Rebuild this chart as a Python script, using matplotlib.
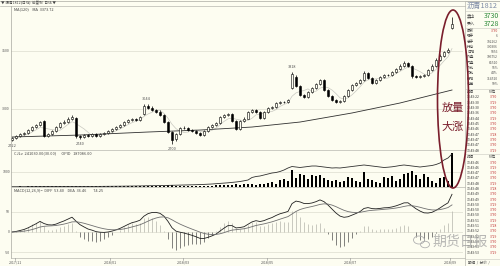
import numpy as np
import pandas as pd
import matplotlib
matplotlib.use("Agg")
import matplotlib.pyplot as plt
from matplotlib.patches import Ellipse, Rectangle

plt.rcParams['font.family'] = ['Noto Sans CJK SC', 'DejaVu Sans']

# ---- daily bars ----
opens = [
    2735, 2752, 2770, 2786, 2795, 2822, 2846, 2864, 2897, 2770,
    2786, 2812, 2846, 2880, 2890, 2916, 2925, 2770, 2760, 2778,
    2770, 2786, 2770, 2786, 2795, 2812, 2830, 2846, 2864, 2890,
    2906, 2916, 2906, 2960, 3030, 3012, 2994, 2978, 2946, 2886,
    2800, 2738, 2788, 2840, 2834, 2820, 2812, 2795, 2778, 2812,
    2848, 2864, 2880, 2934, 2950, 2958, 2896, 2830, 2898, 2918,
    2976, 2994, 2976, 2924, 2976, 3010, 3020, 3054, 3062, 3062,
    3180, 3280, 3196, 3120, 3105, 3150, 3184, 3218, 3250, 3162,
    3110, 3080, 3062, 3070, 3115, 3166, 3209, 3226, 3252, 3312,
    3268, 3226, 3252, 3278, 3295, 3292, 3320, 3347, 3373, 3398,
    3372, 3286, 3278, 3286, 3294, 3338, 3375, 3425, 3460, 3492,
    3700]
highs = [
    2762, 2775, 2792, 2803, 2828, 2856, 2872, 2900, 2908, 2795,
    2822, 2858, 2890, 2902, 2928, 2945, 2934, 2780, 2788, 2786,
    2795, 2794, 2796, 2802, 2820, 2838, 2855, 2872, 2898, 2916,
    2926, 2924, 2942, 3042, 3044, 3022, 3004, 2988, 2956, 2894,
    2808, 2796, 2848, 2852, 2842, 2830, 2820, 2804, 2820, 2856,
    2874, 2890, 2942, 2960, 2970, 2966, 2904, 2908, 2928, 2986,
    3004, 3002, 2984, 2986, 3020, 3030, 3064, 3072, 3070, 3090,
    3318, 3292, 3204, 3130, 3158, 3192, 3228, 3262, 3258, 3170,
    3118, 3088, 3080, 3124, 3176, 3218, 3236, 3262, 3324, 3320,
    3276, 3262, 3288, 3304, 3302, 3330, 3356, 3384, 3410, 3406,
    3380, 3296, 3296, 3304, 3348, 3386, 3436, 3472, 3504, 3522,
    3790]
lows = [
    2722, 2744, 2762, 2778, 2788, 2814, 2838, 2856, 2755, 2762,
    2778, 2804, 2838, 2872, 2882, 2908, 2752, 2740, 2750, 2758,
    2762, 2756, 2762, 2778, 2788, 2804, 2822, 2838, 2856, 2882,
    2898, 2896, 2898, 2950, 3000, 2982, 2966, 2938, 2878, 2790,
    2700, 2728, 2780, 2826, 2810, 2800, 2784, 2766, 2770, 2804,
    2840, 2856, 2872, 2926, 2942, 2886, 2816, 2822, 2890, 2910,
    2968, 2964, 2910, 2916, 2968, 3002, 3012, 3046, 3050, 3054,
    3170, 3188, 3110, 3094, 3096, 3142, 3176, 3210, 3154, 3102,
    3068, 3050, 3054, 3062, 3106, 3158, 3200, 3218, 3244, 3258,
    3214, 3218, 3244, 3270, 3284, 3284, 3312, 3338, 3364, 3362,
    3270, 3266, 3270, 3278, 3286, 3330, 3366, 3416, 3452, 3484,
    3690]
closes = [
    2750, 2767, 2784, 2793, 2819, 2845, 2862, 2888, 2767, 2784,
    2810, 2845, 2879, 2888, 2914, 2931, 2767, 2758, 2776, 2767,
    2784, 2767, 2784, 2793, 2810, 2828, 2845, 2862, 2888, 2905,
    2914, 2905, 2931, 3026, 3009, 2991, 2974, 2948, 2888, 2802,
    2733, 2784, 2836, 2836, 2819, 2810, 2793, 2776, 2810, 2845,
    2862, 2879, 2931, 2948, 2957, 2897, 2828, 2897, 2914, 2974,
    2991, 2974, 2922, 2974, 3009, 3017, 3052, 3060, 3060, 3078,
    3300, 3198, 3121, 3103, 3147, 3181, 3216, 3250, 3164, 3112,
    3078, 3060, 3069, 3112, 3164, 3207, 3224, 3250, 3310, 3267,
    3224, 3250, 3276, 3293, 3293, 3319, 3345, 3371, 3397, 3371,
    3284, 3276, 3284, 3293, 3336, 3371, 3422, 3457, 3490, 3509,
    3730]
volumes = [
    30, 30, 40, 30, 40, 50, 40, 50, 60, 40,
    40, 50, 50, 40, 60, 50, 70, 50, 40, 50,
    40, 50, 40, 50, 60, 50, 60, 50, 60, 70,
    60, 50, 70, 90, 80, 70, 60, 70, 90, 110,
    120, 90, 80, 70, 80, 70, 60, 70, 80, 90,
    100, 110, 150, 130, 140, 160, 180, 150, 170, 220,
    200, 130, 200, 200, 270, 330, 200, 470, 530, 400,
    1130, 600, 870, 800, 530, 800, 730, 800, 600, 470,
    400, 470, 330, 400, 670, 600, 400, 330, 1000, 530,
    470, 330, 270, 670, 600, 730, 400, 530, 870, 930,
    1070, 800, 530, 870, 670, 400, 270, 600, 670, 400,
    2270]
open_interest = [
    300, 300, 320, 330, 340, 350, 360, 380, 400, 400,
    420, 430, 440, 450, 460, 480, 500, 500, 520, 540,
    560, 580, 600, 640, 680, 720, 760, 800, 850, 900,
    950, 1000, 1050, 1150, 1250, 1300, 1350, 1400, 1500, 1600,
    1700, 1800, 1900, 2000, 2100, 2200, 2300, 2450, 2600, 2800,
    3000, 3300, 3600, 3900, 4200, 4600, 5000, 5500, 6200, 7000,
    9500, 10500, 11000, 12000, 13000, 14000, 14500, 15500, 17000, 19000,
    20500, 20000, 19500, 20000, 20500, 21000, 21000, 20500, 20000, 19500,
    19000, 19200, 19000, 19500, 20000, 20500, 21000, 21500, 22000, 21500,
    21000, 20500, 20000, 19500, 19800, 20200, 20800, 21500, 22000, 21500,
    21000, 20500, 20000, 20500, 21000, 21500, 22500, 24000, 27000, 29000,
    33000]

# long moving average, read at a few bars
ma_long_idx = [0, 17, 34, 47, 60, 72, 85, 97, 105, 110]
ma_long_val = [2759, 2776, 2802, 2819, 2845, 2888, 2966, 3052, 3121, 3164]

# extreme labels on the price panel
ext_idx = [0, 17, 33.5, 40, 70]
ext_txt = ["2722", "2740", "3044", "2700", "3318"]
ext_val = [2722, 2740, 3044, 2700, 3318]
ext_above = [False, False, True, False, True]

date_idx = [0.75, 24.5, 42.75, 63.75, 84.5, 109.5]
date_txt = ["2017/11", "2018/01", "2018/03", "2018/05", "2018/07", "2018/09"]

# quote panel on the right
quote_labels = ["最新", "现手", "总手", "持仓", "日增", "外盘", "内盘", "外比", "内比", "持增", "仓差"]
quote_values = ["3730", "6", "192262", "300306", "5856", "106752", "85510", "56%", "44%", "114520", "50%"]
tick_times_1 = ["13:49:22", "13:49:30", "13:49:30", "13:49:36", "13:49:44", "13:49:45",
                "13:49:46", "13:49:47", "13:49:47", "13:49:47", "13:49:48"]
tick_times_2 = ["13:49:46", "13:49:46", "13:49:47", "13:49:47", "13:49:48", "13:49:48",
                "13:49:49", "13:49:49", "13:49:50", "13:49:50", "13:49:50", "13:49:51",
                "13:49:51", "13:49:52", "13:49:52", "13:49:53", "13:49:53", "13:49:53"]
tick_price_1 = ["3730", "3729", "3730", "3730", "3729", "3730", "3730", "3728", "3730", "3730", "3729"]
tick_price_2 = ["3730", "3729", "3730", "3730", "3729", "3728", "3730", "3730", "3729", "3730",
                "3730", "3729", "3728", "3730", "3729", "3730", "3730", "3729"]

BG = "#fdfdf1"
GRID = "#dcdccf"
DARKRED = "#7a1e2c"
W, H = 500, 266

o = np.array(opens); h = np.array(highs); l = np.array(lows); c = np.array(closes)
idx = np.arange(len(c))

cs = pd.Series(c, dtype=float)
ma5 = cs.rolling(5, min_periods=1).mean()
dif = cs.ewm(span=12, adjust=False).mean() - cs.ewm(span=26, adjust=False).mean()
dea = dif.ewm(span=9, adjust=False).mean()
hist = 2 * (dif - dea)

fig = plt.figure(figsize=(5.0, 2.66), dpi=100, facecolor=BG)


def panel(top, bottom):
    ax = fig.add_axes([11 / W, 1 - bottom / H, 452 / W, (bottom - top) / H])
    ax.set_facecolor(BG)
    ax.set_xlim(-0.25, 112.75)
    for s in ax.spines.values():
        s.set_visible(False)
    ax.set_xticks([]); ax.set_yticks([])
    return ax


# ---- price panel ----
ax_p = panel(6, 150)
ax_p.set_ylim(2647, 3888)
for g in (3000, 3500):
    ax_p.axhline(g, color=GRID, lw=0.5, zorder=0)
ax_p.plot(idx, ma5, color="#c8c8c0", lw=0.5, zorder=1)
ax_p.plot(ma_long_idx, ma_long_val, color="#303030", lw=0.6, zorder=2)
up = c >= o
ax_p.vlines(idx, l, h, color="black", lw=0.5, zorder=3)
ax_p.bar(idx[~up], (o - c)[~up], bottom=c[~up], width=0.6, color="black",
         edgecolor="black", lw=0.4, zorder=4)
ax_p.bar(idx[up], (c - o)[up], bottom=o[up], width=0.6, color=BG,
         edgecolor="black", lw=0.4, zorder=4)
for xi, t, v, above in zip(ext_idx, ext_txt, ext_val, ext_above):
    ax_p.text(xi, v + (25 if above else -25), t, fontsize=2.8, color="#555555",
              ha="center", va="bottom" if above else "top")
ax_p.text(0.5, 3860, "MA(120)    MA  3373.72", fontsize=2.8, color="#444444", va="center")

# ---- volume panel ----
ax_v = panel(150, 187)
ax_v.set_ylim(0, 2467)
ax_v.axhline(1000, color=GRID, lw=0.5, zorder=0)
ax_v.bar(idx, volumes, width=0.4, color="black", zorder=3)
ax_oi = ax_v.twinx()
ax_oi.set_xlim(-0.25, 112.75)
ax_oi.set_ylim(0, 37000)
ax_oi.plot(idx, open_interest, color="#303030", lw=0.6)
ax_oi.axis("off")
ax_v.text(0.5, 2280, "CJLv  241030.00(30.00)      OPID   187086.00", fontsize=2.8,
          color="#444444", va="center")

# ---- MACD panel ----
ax_m = panel(187, 258)
ax_m.set_ylim(-65, 112.5)
for g in (50, 0, -50):
    ax_m.axhline(g, color=GRID, lw=0.5, zorder=0)
pos = hist >= 0
ax_m.vlines(idx[pos], 0, hist[pos], color="#b4b4ac", lw=0.5, zorder=2)
ax_m.vlines(idx[~pos], 0, hist[~pos], color="#505050", lw=0.5, zorder=2)
ax_m.plot(idx, dif, color="#202020", lw=0.6, zorder=3)
ax_m.plot(idx, dea, color="#707070", lw=0.6, zorder=3)
ax_m.text(0.5, 104, "MACD(12,26,9)=  DIFF  53.40    DEA  36.46        74.25", fontsize=2.8,
          color="#444444", va="center",
          bbox=dict(boxstyle="square,pad=0.3", fc=BG, ec="none"))

# ---- overlay: frame, labels, quote panel, annotation ----
ov = fig.add_axes([0, 0, 1, 1])
ov.set_xlim(0, W); ov.set_ylim(H, 0)
ov.axis("off")
ov.patch.set_alpha(0)

ov.plot([0, W], [1, 1], color="#b8b8b0", lw=0.6)
ov.plot([0, 465], [6, 6], color="#b8b8b0", lw=0.5)
ov.text(1, 3.5, "▼ 沥青1812(日线)  前复权  日线 ▼", fontsize=2.6, color="#444444", va="center")
ov.plot([11, 11], [6, 258], color="#a8a8a0", lw=0.5)
for yy in (150, 187, 258):
    ov.plot([11, 465], [yy, yy], color="#b8b8b0", lw=0.5)
for yy, t in [(51, "3500"), (109, "3000"), (172, "1000"), (212, "50"), (232, "0"), (253, "-50")]:
    ov.text(10, yy, t, fontsize=2.6, color="#555555", ha="right", va="center")
for di, t in zip(date_idx, date_txt):
    px = 12 + 4 * di
    ov.plot([px, px], [258, 260], color="#888888", lw=0.4)
    ov.text(px, 263, t, fontsize=2.6, color="#555555", ha="center", va="center")

# right quote panel
ov.add_patch(Rectangle((465, 1), 35, 265, fc=BG, ec="#b8b8b0", lw=0.5, zorder=1))
ov.text(467, 6, "沥青1812", fontsize=5.2, color="#7d8aa5", va="center", zorder=2)
ov.plot([465, 500], [10.5, 10.5], color="#c8c8c0", lw=0.4, zorder=2)
ov.text(467, 15.5, "卖出", fontsize=3.0, color="#444444", va="center", zorder=2)
ov.text(499, 15.5, "3730", fontsize=5.0, color="#2e8b3a", va="center", ha="right", zorder=2)
ov.text(467, 24, "买入", fontsize=3.0, color="#444444", va="center", zorder=2)
ov.text(499, 24, "3728", fontsize=5.0, color="#2e8b3a", va="center", ha="right", zorder=2)
ov.plot([465, 500], [28, 28], color="#c8c8c0", lw=0.4, zorder=2)
for k, (lab, val) in enumerate(zip(quote_labels, quote_values)):
    yy = 31 + k * 5.3
    ov.text(467, yy, lab, fontsize=2.6, color="#444444", va="center", zorder=2)
    ov.text(498, yy, val, fontsize=2.4, color="#c03030" if k == 0 else "#555555",
            va="center", ha="right", zorder=2)
for hy in (92, 157):
    ov.plot([465, 500], [hy - 3.5, hy - 3.5], color="#c8c8c0", lw=0.4, zorder=2)
    ov.text(467, hy, "时间", fontsize=2.6, color="#444444", va="center", zorder=2)
    ov.text(489, hy, "价位", fontsize=2.6, color="#444444", va="center", zorder=2)
for k, (tt, pp) in enumerate(zip(tick_times_1, tick_price_1)):
    yy = 97.5 + k * 5.3
    ov.text(467, yy, tt, fontsize=2.4, color="#333333", va="center", zorder=2)
    ov.text(490, yy, pp, fontsize=2.4, color="#c03030", va="center", zorder=2)
for k, (tt, pp) in enumerate(zip(tick_times_2, tick_price_2)):
    yy = 162.5 + k * 5.3
    ov.text(467, yy, tt, fontsize=2.4, color="#333333", va="center", zorder=2)
    ov.text(490, yy, pp, fontsize=2.4, color="#c03030", va="center", zorder=2)
ov.plot([465, 500], [259, 259], color="#c8c8c0", lw=0.4, zorder=2)
ov.text(468, 263, "明细  /  分价  /", fontsize=2.6, color="#444444", va="center", zorder=2)

# watermark (semi-transparent, the quote rows show through it as in the screenshot)
ov.add_patch(Ellipse((419, 240), 11, 8, fc="none", ec="#b0b0b0", lw=0.6, zorder=5))
ov.add_patch(Ellipse((425, 244.5), 9, 6.5, fc="none", ec="#b0b0b0", lw=0.6, zorder=5))
ov.text(432, 242, "期货日报", fontsize=10, color="#a0a0a0", alpha=0.75, va="center", zorder=5)

# annotation
ov.add_patch(Ellipse((453, 99), 31, 178, fc="none", ec=DARKRED, lw=1.2, zorder=6))
ov.text(453, 108, "放量", fontsize=8, color=DARKRED, ha="center", va="center", zorder=6)
ov.text(453, 127, "大涨", fontsize=8, color=DARKRED, ha="center", va="center", zorder=6)

fig.savefig("out.png", dpi=100, facecolor=BG)
